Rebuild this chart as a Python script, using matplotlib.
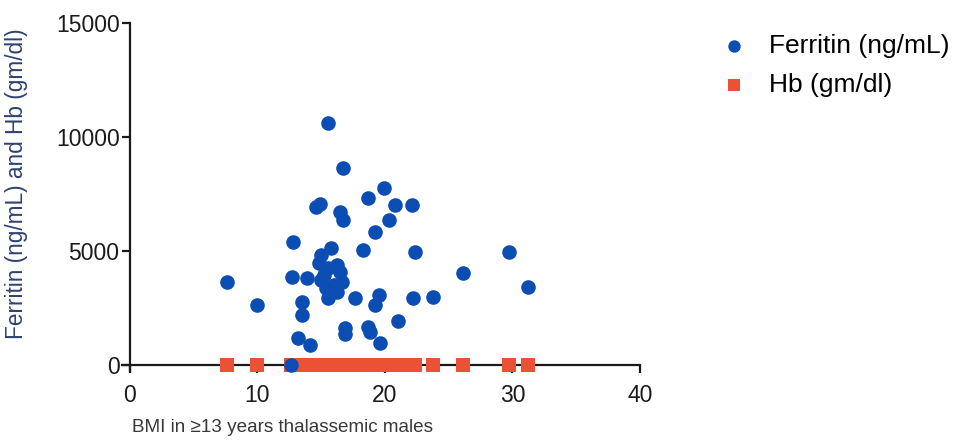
import matplotlib
matplotlib.use('Agg')
import matplotlib.pyplot as plt

plt.rcParams['font.family'] = ['Liberation Sans', 'DejaVu Sans']

# BMI of each patient with the matching ferritin and haemoglobin reading
bmi = [7.6, 10.0, 12.6, 12.8, 12.7, 13.9, 13.5, 13.5, 13.2, 14.1,
       14.6, 14.9, 15.55, 16.7, 16.5, 16.7, 15.8, 15.0, 14.8, 15.0,
       16.5, 16.6, 15.4, 16.2, 15.55, 17.65, 16.9, 16.9, 18.3, 18.7,
       19.9, 20.8, 22.1, 20.3, 19.2, 22.35, 19.5, 19.2, 22.2, 18.7,
       18.8, 21.0, 19.6, 23.8, 26.1, 29.7, 31.2, 15.5, 16.2, 16.0, 15.2]
ferritin = [3650, 2650, 0, 5400, 3880, 3800, 2780, 2200, 1200, 880,
            6950, 7080, 10600, 8630, 6720, 6360, 5120, 4820, 4460, 3730,
            4090, 3650, 3360, 3215, 2930, 2930, 1610, 1350, 5045, 7310,
            7750, 7020, 7020, 6360, 5850, 4970, 3070, 2650, 2930, 1680,
            1460, 1950, 950, 3000, 4020, 4970, 3435, 4250, 4400, 3500, 3950]
hb = [9.2, 8.6, 10.1, 9.4, 8.8, 10.5, 9.0, 11.2, 9.8, 8.4,
      10.0, 9.6, 8.9, 10.4, 9.1, 9.7, 10.8, 8.7, 9.3, 10.2,
      9.5, 8.8, 10.6, 9.9, 9.0, 10.3, 8.5, 9.4, 10.7, 9.2,
      8.9, 10.1, 9.6, 9.0, 10.4, 8.8, 9.7, 10.0, 9.3, 8.6,
      10.5, 9.1, 9.8, 10.2, 9.4, 8.7, 9.9, 9.5, 10.0, 9.2, 8.9]

xticks = [0, 10, 20, 30, 40]
yticks = [0, 5000, 10000, 15000]

blue = '#0b4db3'
red = '#eb5135'

fig = plt.figure(figsize=(9.7, 4.45), dpi=100)
ax = fig.add_axes([0.1261, 0.1665, 0.5337, 0.7818])

ax.scatter(bmi, hb, marker='s', s=10.5 ** 2, color=red, linewidths=0,
           label='Hb (gm/dl)', zorder=3, clip_on=False)
ax.scatter(bmi, ferritin, marker='o', s=10.5 ** 2, color=blue, linewidths=0,
           label='Ferritin (ng/mL)', zorder=4, clip_on=False)

ax.set_xlim(-0.6, 40)
ax.set_ylim(-260, 15000)
for side in ['top', 'right']:
    ax.spines[side].set_visible(False)
ax.spines['left'].set_position(('data', 0))
ax.spines['bottom'].set_position(('data', 0))
ax.spines['left'].set_bounds(-260, 15000)
ax.spines['bottom'].set_bounds(-0.6, 40)
for side in ['left', 'bottom']:
    ax.spines[side].set_linewidth(1.6)
    ax.spines[side].set_color('#1a1a1a')
    ax.spines[side].set_zorder(2)

ax.set_xticks(xticks)
ax.set_yticks(yticks)
ax.tick_params(direction='out', length=5.5, width=1.6, color='#1a1a1a',
               labelsize=16.5, labelcolor='#1a1a1a')
ax.tick_params(axis='x', pad=8)
ax.tick_params(axis='y', pad=2)

fig.text(282 / 970, 1 - 428 / 445, 'BMI in \u226513 years thalassemic males',
         ha='center', va='center', fontsize=13.6, color='#383838')
fig.text(17 / 970, 1 - 184 / 445, 'Ferritin (ng/mL) and Hb (gm/dl)',
         ha='center', va='center', rotation=90, fontsize=16.3, color='#2e4270')

handles, labels = ax.get_legend_handles_labels()
fig.legend(handles[::-1], labels[::-1], loc='upper left',
           bbox_to_anchor=(718 / 970, 1 - 34 / 445), frameon=False,
           fontsize=19, handletextpad=0.75, labelspacing=0.55,
           markerscale=0.85, borderaxespad=0, borderpad=0,
           handlelength=1.2)

fig.savefig('out.png', dpi=100)
